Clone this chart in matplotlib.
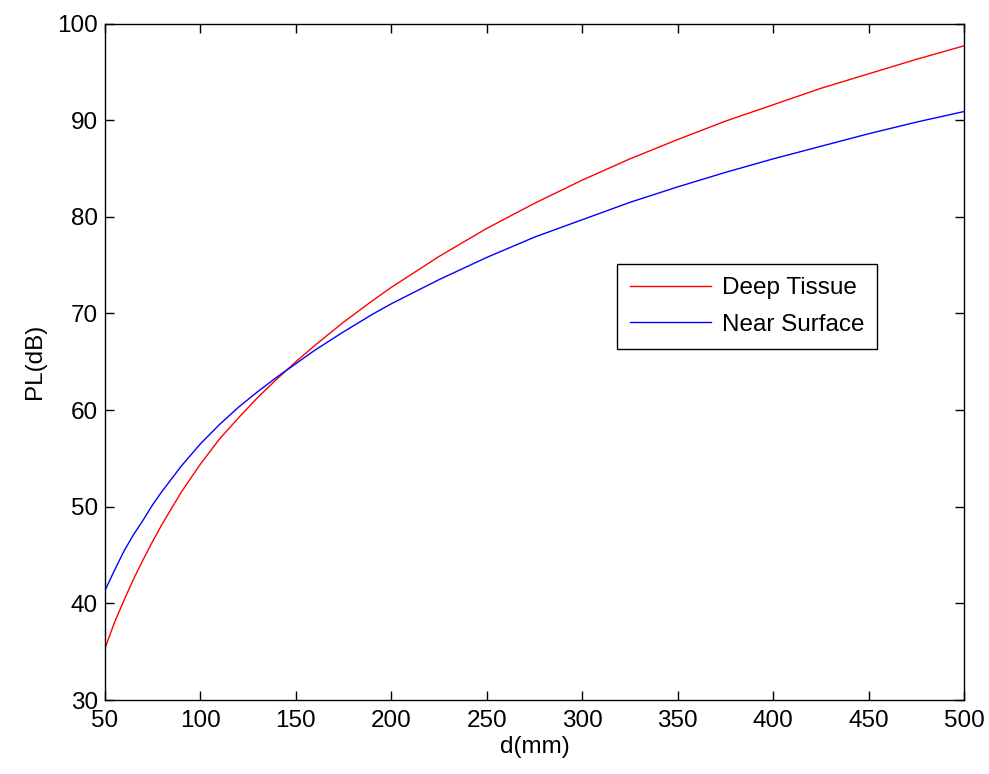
import matplotlib.pyplot as plt

plt.rcParams["font.family"] = ["Liberation Sans", "DejaVu Sans"]

# path loss vs distance, read at selected distances
d_mm = [50, 55, 60, 65, 70, 75, 80, 90, 100, 110, 120, 130, 140, 150, 160, 175,
        190, 200, 225, 250, 275, 300, 325, 350, 375, 400, 425, 450, 475, 500]
pl_deep = [35.3, 38.0, 40.3, 42.5, 44.5, 46.4, 48.2, 51.5, 54.4, 57.0, 59.2,
           61.3, 63.2, 65.0, 66.7, 69.1, 71.3, 72.7, 75.9, 78.8, 81.4, 83.8,
           86.0, 88.0, 89.9, 91.6, 93.3, 94.8, 96.3, 97.7]
pl_near = [41.3, 43.4, 45.4, 47.1, 48.6, 50.2, 51.6, 54.2, 56.5, 58.5, 60.3,
           61.9, 63.4, 64.8, 66.2, 68.1, 69.9, 71.0, 73.5, 75.8, 77.9, 79.7,
           81.5, 83.1, 84.6, 86.0, 87.3, 88.6, 89.8, 90.9]

x_ticks = [50, 100, 150, 200, 250, 300, 350, 400, 450, 500]
y_ticks = [30, 40, 50, 60, 70, 80, 90, 100]

fig = plt.figure(figsize=(9.89, 7.74), dpi=100)
ax = fig.add_axes([0.106, 0.0956, 0.869, 0.874])

ax.plot(d_mm, pl_deep, color="#ff0000", linewidth=1.0, label="Deep Tissue")
ax.plot(d_mm, pl_near, color="#0000ff", linewidth=1.0, label="Near Surface")

ax.set_xlim(50, 500)
ax.set_ylim(30, 100)
ax.set_xticks(x_ticks)
ax.set_yticks(y_ticks)
ax.tick_params(direction="in", length=6.5, width=1.0, top=True, right=True,
               labelsize=17.5, colors="black")
ax.tick_params(axis="x", pad=7)
ax.tick_params(axis="y", pad=5)
for s in ax.spines.values():
    s.set_linewidth(1.0)

ax.set_xlabel("d(mm)", fontsize=17.5, labelpad=3)
ax.set_ylabel("PL(dB)", fontsize=17.5, labelpad=8)

leg = ax.legend(loc="upper left", bbox_to_anchor=(0.596, 0.645), borderaxespad=0,
                fontsize=17.5, handlelength=3.3, handletextpad=0.45,
                labelspacing=0.6, borderpad=0.55, fancybox=False, framealpha=1)
leg.get_frame().set_edgecolor("black")
leg.get_frame().set_linewidth(1.0)

fig.savefig("out.png", dpi=100)
